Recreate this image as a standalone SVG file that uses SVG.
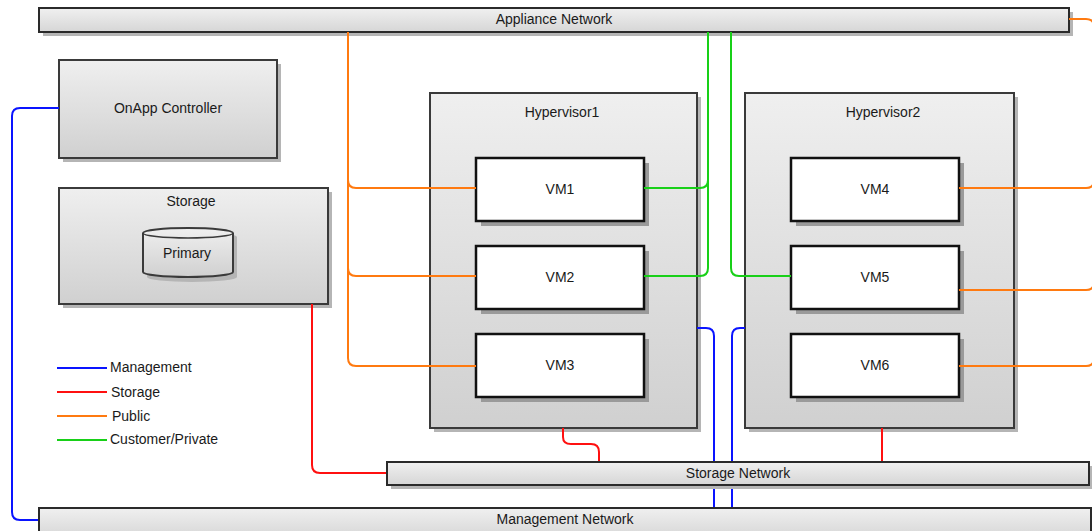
<svg xmlns="http://www.w3.org/2000/svg" width="1092" height="531" viewBox="0 0 1092 531">
<defs>
<linearGradient id="g" x1="0" y1="0" x2="0" y2="1"><stop offset="0" stop-color="#efefef"/><stop offset="1" stop-color="#d0d0d0"/></linearGradient>
<linearGradient id="gb" x1="0" y1="0" x2="0" y2="1"><stop offset="0" stop-color="#f0f0f0"/><stop offset="1" stop-color="#d6d6d6"/></linearGradient>
</defs>
<style>
.sh{fill:#b5b5b5}
.box{fill:url(#g);stroke:#3a3a3a;stroke-width:2}
.bar{fill:url(#gb);stroke:#2a2a2a;stroke-width:2}
.vmsh{fill:#9a9a9a}
.vm{fill:#fff;stroke:#111;stroke-width:2.5}
text{font-family:"Liberation Sans",Arial,sans-serif;font-size:14px;fill:#1a1a1a}
.c{text-anchor:middle;dominant-baseline:central}
.l{dominant-baseline:central}
.cn{fill:none;stroke-width:2}
.bl{stroke:#0a14ff}.rd{stroke:#ff1010}.or{stroke:#ff7a10}.gr{stroke:#18d018}
</style>
<rect width="1092" height="531" fill="#fff"/>
<g id="appliance-network">
<rect class="sh" x="43" y="12" width="1030" height="24"/>
<rect class="bar" x="39" y="8" width="1030" height="24"/>
<text class="c" x="554" y="19">Appliance Network</text>
</g>
<g id="onapp-controller">
<rect class="sh" x="63" y="64" width="218" height="98"/>
<rect class="box" x="59" y="60" width="218" height="98"/>
<text class="c" x="168" y="108">OnApp Controller</text>
</g>
<g id="storage">
<rect class="sh" x="63" y="192" width="269" height="116"/>
<rect class="box" x="59" y="188" width="269" height="116"/>
<text class="c" x="191" y="201">Storage</text>
</g>
<g id="primary">
<path class="sh" d="M147,237 A45,5 0 0 1 237,237 V277 A45,5 0 0 1 147,277 Z"/>
<path d="M143,233 A45,5 0 0 1 233,233 V272 A45,5 0 0 1 143,272 Z" fill="url(#g)" stroke="#3a3a3a" stroke-width="2"/>
<path d="M143,233 A45,5 0 0 0 233,233" fill="none" stroke="#3a3a3a" stroke-width="1.5"/>
<text class="c" x="187" y="253">Primary</text>
</g>
<g id="hypervisor1">
<rect class="sh" x="434" y="97" width="267" height="335"/>
<rect class="box" x="430" y="93" width="267" height="335"/>
<text class="c" x="562" y="112">Hypervisor1</text>
</g>
<g id="hypervisor2">
<rect class="sh" x="749" y="97" width="269" height="335"/>
<rect class="box" x="745" y="93" width="269" height="335"/>
<text class="c" x="883" y="112">Hypervisor2</text>
</g>
<g id="vm1"><rect class="vmsh" x="481" y="163" width="168" height="63"/><rect class="vm" x="476" y="158" width="168" height="63"/><text class="c" x="560" y="189">VM1</text></g>
<g id="vm2"><rect class="vmsh" x="481" y="251" width="168" height="63"/><rect class="vm" x="476" y="246" width="168" height="63"/><text class="c" x="560" y="277">VM2</text></g>
<g id="vm3"><rect class="vmsh" x="481" y="339" width="168" height="63"/><rect class="vm" x="476" y="334" width="168" height="63"/><text class="c" x="560" y="365">VM3</text></g>
<g id="vm4"><rect class="vmsh" x="796" y="163" width="168" height="63"/><rect class="vm" x="791" y="158" width="168" height="63"/><text class="c" x="875" y="189">VM4</text></g>
<g id="vm5"><rect class="vmsh" x="796" y="251" width="168" height="63"/><rect class="vm" x="791" y="246" width="168" height="63"/><text class="c" x="875" y="277">VM5</text></g>
<g id="vm6"><rect class="vmsh" x="796" y="339" width="168" height="63"/><rect class="vm" x="791" y="334" width="168" height="63"/><text class="c" x="875" y="365">VM6</text></g>
<g id="connectors">
<path class="cn bl" d="M59,108 H20 Q12,108 12,116 V512 Q12,520 20,520 H39"/>
<path class="cn rd" d="M312,304 V465 Q312,473 320,473 H387"/>
<path class="cn rd" d="M563,428 V437 Q563,444 571,444 H591 Q599,444 599,452 V462"/>
<path class="cn rd" d="M882,428 V462"/>
<path class="cn or" d="M348,32 V358 Q348,366 356,366 H476"/>
<path class="cn or" d="M348,180 Q348,188 356,188 H476"/>
<path class="cn or" d="M348,268 Q348,276 356,276 H476"/>
<path class="cn gr" d="M644,188 H700 Q708,188 708,180 V32"/>
<path class="cn gr" d="M644,276 H700 Q708,276 708,268 V32"/>
<path class="cn gr" d="M731,32 V268 Q731,276 739,276 H791"/>
<path class="cn bl" d="M697,328 H706 Q714,328 714,336 V508"/>
<path class="cn bl" d="M745,328 H740 Q732,328 732,336 V508"/>
<path class="cn or" d="M1069,19 H1086 Q1094,19 1094,27 V358"/>
<path class="cn or" d="M959,188 H1086 Q1094,188 1094,180"/>
<path class="cn or" d="M959,290 H1086 Q1094,290 1094,282"/>
<path class="cn or" d="M959,366 H1086 Q1094,366 1094,358"/>
</g>
<g id="storage-network">
<rect class="sh" x="391" y="466" width="702" height="23"/>
<rect class="bar" x="387" y="462" width="702" height="23"/>
<text class="c" x="738" y="473">Storage Network</text>
</g>
<g id="management-network">
<rect class="sh" x="43" y="512" width="1052" height="30"/>
<rect class="bar" x="39" y="508" width="1052" height="30"/>
<text class="c" x="565" y="519">Management Network</text>
</g>
<g id="legend">
<line x1="57" y1="368" x2="107" y2="368" class="cn bl"/>
<line x1="57" y1="392" x2="107" y2="392" class="cn rd"/>
<line x1="57" y1="416" x2="107" y2="416" class="cn or"/>
<line x1="57" y1="440" x2="107" y2="440" class="cn gr"/>
<text class="l" x="110" y="367">Management</text>
<text class="l" x="111" y="392">Storage</text>
<text class="l" x="112" y="416">Public</text>
<text class="l" x="110" y="439">Customer/Private</text>
</g>
</svg>
